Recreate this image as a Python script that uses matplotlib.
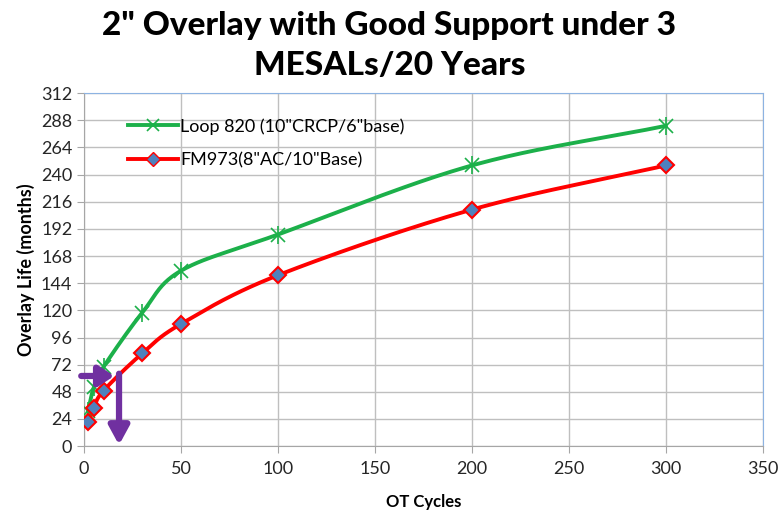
import numpy as np
import matplotlib
matplotlib.use("Agg")
import matplotlib.pyplot as plt
from matplotlib.lines import Line2D

# Data
ot_cycles = [2, 5, 10, 30, 50, 100, 200, 300]
loop820 = [31, 52, 70, 118, 155, 187, 248, 283]
fm973 = [21, 34, 49, 82, 108, 151, 209, 248]
series_labels = ['Loop 820 (10"CRCP/6"base)', 'FM973(8"AC/10"Base)']
y_ticks = list(range(0, 313, 24))
x_ticks = list(range(0, 351, 50))
arrow_level = 62
arrow_x = 18

plt.rcParams['font.family'] = ['Lato', 'DejaVu Sans']


def smooth(x, y, n=40):
    # Catmull-Rom style smoothing similar to Excel smoothed lines
    x = np.asarray(x, float); y = np.asarray(y, float)
    pts = np.column_stack([x, y])
    P = np.vstack([pts[0] - (pts[1] - pts[0]), pts, pts[-1] + (pts[-1] - pts[-2])])
    out = []
    for i in range(1, len(P) - 2):
        p0, p1, p2, p3 = P[i - 1], P[i], P[i + 1], P[i + 2]
        c1 = p1 + (p2 - p0) / 6.0
        c2 = p2 - (p3 - p1) / 6.0
        t = np.linspace(0, 1, n)[:, None]
        seg = (1 - t) ** 3 * p1 + 3 * (1 - t) ** 2 * t * c1 + 3 * (1 - t) * t ** 2 * c2 + t ** 3 * p2
        out.append(seg if i == 1 else seg[1:])
    s = np.vstack(out)
    return s[:, 0], s[:, 1]


fig = plt.figure(figsize=(7.79, 5.14), dpi=100)
ax = fig.add_axes([0.108, 0.132, 0.871, 0.687])

green = '#1CB04A'
red = '#FF0000'

gx, gy = smooth(ot_cycles, loop820)
ax.plot(gx, gy, color=green, lw=2.8, zorder=3)
ax.plot(ot_cycles, loop820, ls='none', marker='x', ms=10, mew=1.2, color=green, zorder=4)
ax.plot(ot_cycles, loop820, ls='none', marker='|', ms=13, mew=1.2, color=green, zorder=4)

rx, ry = smooth(ot_cycles, fm973)
ax.plot(rx, ry, color=red, lw=2.8, zorder=3)
ax.plot(ot_cycles, fm973, ls='none', marker='D', ms=8, mfc='#4F81BD', mec=red, mew=1.5, zorder=5)

# Purple arrows
purple = '#7030A0'
ax.annotate('', xy=(15.5, arrow_level), xytext=(-1.5, arrow_level),
            arrowprops=dict(arrowstyle='-|>,head_length=0.45,head_width=0.3', color=purple, lw=4.5,
                            mutation_scale=20, shrinkA=0, shrinkB=0),
            annotation_clip=False, zorder=6)
ax.annotate('', xy=(arrow_x, 1), xytext=(arrow_x, arrow_level + 2),
            arrowprops=dict(arrowstyle='-|>,head_length=0.55,head_width=0.3', color=purple, lw=4.5,
                            mutation_scale=20, shrinkA=0, shrinkB=0),
            annotation_clip=False, zorder=6)

ax.set_xlim(0, 350)
ax.set_ylim(0, 312)
ax.set_xticks(x_ticks)
ax.set_yticks(y_ticks)
ax.grid(True, color='#BFBFBF', lw=1)
ax.set_axisbelow(True)
for s in ['left', 'bottom']:
    ax.spines[s].set_color('#A6A6A6')
for s in ['top', 'right']:
    ax.spines[s].set_color('#8DB3E2')
ax.tick_params(axis='both', labelsize=13, length=5, color='#A6A6A6')
for lab in ax.get_xticklabels() + ax.get_yticklabels():
    lab.set_color('#262626')
ax.tick_params(axis='x', pad=6)

ax.set_xlabel('OT Cycles', fontsize=12, fontweight='bold', labelpad=12)
ax.set_ylabel('Overlay Life (months)', fontsize=13, fontweight='bold', labelpad=4)

fig.suptitle('2" Overlay with Good Support under 3\nMESALs/20 Years', fontsize=24, fontweight='black',
             y=0.978, linespacing=1.45)

h1 = Line2D([], [], color=green, lw=2.8, marker='x', ms=9, mew=1.2)
h2 = Line2D([], [], color=red, lw=2.8, marker='D', ms=7, mfc='#4F81BD', mec=red)
ax.legend([h1, h2], series_labels, loc='upper left', bbox_to_anchor=(0.04, 0.975), frameon=False,
          fontsize=13, handlelength=2.8, labelspacing=0.95, handletextpad=0.1)

fig.savefig('out.png', dpi=100)
